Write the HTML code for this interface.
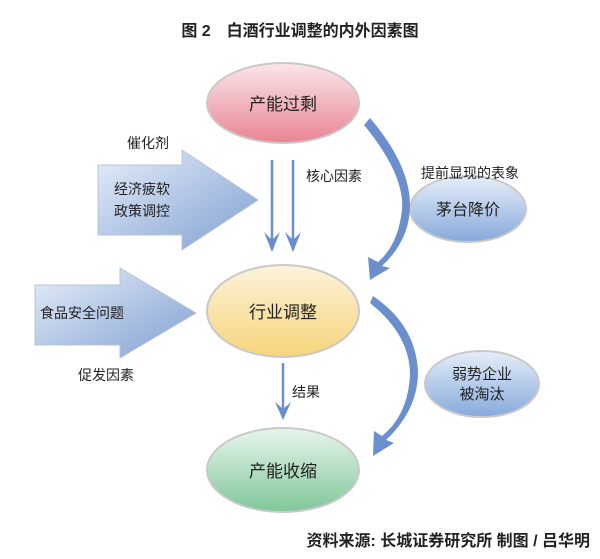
<!DOCTYPE html>
<html><head><meta charset="utf-8"><style>
body{margin:0;background:#fff;width:600px;height:554px;overflow:hidden}
text{font-family:"Liberation Sans","Noto Sans CJK SC",sans-serif;fill:#222}
</style></head><body>
<svg width="600" height="554" viewBox="0 0 600 554" xmlns="http://www.w3.org/2000/svg">
<defs>
<linearGradient id="r" x1="0" y1="0" x2="0" y2="1"><stop offset="0" stop-color="#fbe6ea"/><stop offset="1" stop-color="#e88592"/></linearGradient>
<linearGradient id="y" x1="0" y1="0" x2="0" y2="1"><stop offset="0" stop-color="#fdf3dc"/><stop offset="1" stop-color="#f7d47a"/></linearGradient>
<linearGradient id="g" x1="0" y1="0" x2="0" y2="1"><stop offset="0" stop-color="#e8f5ec"/><stop offset="1" stop-color="#7fc79a"/></linearGradient>
<linearGradient id="b" x1="0" y1="0" x2="0" y2="1"><stop offset="0" stop-color="#e6eef9"/><stop offset="1" stop-color="#86a9dc"/></linearGradient>
<linearGradient id="ba" x1="0" y1="0" x2="1" y2="1"><stop offset="0" stop-color="#e6eef9"/><stop offset="1" stop-color="#7f9fd2"/></linearGradient>
</defs>
<text x="300" y="36" text-anchor="middle" font-size="16" font-weight="bold">图 2　白酒行业调整的内外因素图</text>
<path d="M98,165 H182 V150 L258,200 L182,250 V235 H98 Z" fill="url(#ba)" stroke="#b8c4d4"/>
<path d="M35,285 H120 V268 L196,313 L120,358 V345 H35 Z" fill="url(#ba)" stroke="#b8c4d4"/>
<text x="142" y="194" text-anchor="middle" font-size="14">经济疲软</text>
<text x="142" y="216" text-anchor="middle" font-size="14">政策调控</text>
<text x="82" y="318" text-anchor="middle" font-size="14">食品安全问题</text>
<ellipse cx="283" cy="103" rx="76" ry="40" fill="url(#r)" stroke="#c9c9c9" stroke-width="2"/>
<ellipse cx="283" cy="311" rx="76" ry="46" fill="url(#y)" stroke="#c9c9c9" stroke-width="2"/>
<ellipse cx="283" cy="470" rx="76" ry="42" fill="url(#g)" stroke="#c9c9c9" stroke-width="2"/>
<ellipse cx="468" cy="209" rx="58" ry="33" fill="url(#b)" stroke="#c9c9c9" stroke-width="2"/>
<ellipse cx="482" cy="384" rx="57" ry="33" fill="url(#b)" stroke="#c9c9c9" stroke-width="2"/>
<text x="283" y="110" text-anchor="middle" font-size="17">产能过剩</text>
<text x="283" y="318" text-anchor="middle" font-size="17">行业调整</text>
<text x="283" y="477" text-anchor="middle" font-size="17">产能收缩</text>
<text x="468" y="215" text-anchor="middle" font-size="16">茅台降价</text>
<text x="482" y="379" text-anchor="middle" font-size="15">弱势企业</text>
<text x="482" y="399" text-anchor="middle" font-size="15">被淘汰</text>
<g stroke="#6a8fcc" stroke-width="2.5" fill="none">
<line x1="272" y1="160" x2="272" y2="250"/>
<line x1="293" y1="160" x2="293" y2="250"/>
<line x1="283" y1="363" x2="283" y2="418"/>
</g>
<g fill="#6a8fcc">
<path d="M264,232 L272,252 L280,232 L272,240 Z"/>
<path d="M285,232 L293,252 L301,232 L293,240 Z"/>
<path d="M275,402 L283,420 L291,402 L283,409 Z"/>
</g>
<path d="M364,125 Q405,175 402,210 Q398,245 378,262 L368,257 L370,280 L390,268 L382,266 Q410,240 410,205 Q410,165 370,118 Z" fill="#6a8fcc"/>
<path d="M370,303 Q410,335 410,375 Q408,415 382,436 L374,431 L373,456 L394,443 L386,440 Q418,410 418,372 Q416,325 373,296 Z" fill="#6a8fcc"/>
<text x="148" y="148" text-anchor="middle" font-size="14">催化剂</text>
<text x="334" y="181" text-anchor="middle" font-size="14">核心因素</text>
<text x="470" y="178" text-anchor="middle" font-size="14">提前显现的表象</text>
<text x="106" y="380" text-anchor="middle" font-size="14">促发因素</text>
<text x="306" y="397" text-anchor="middle" font-size="14">结果</text>
<text x="590" y="546" text-anchor="end" font-size="16" font-weight="bold">资料来源: 长城证券研究所  制图 / 吕华明</text>
</svg>
</body></html>
